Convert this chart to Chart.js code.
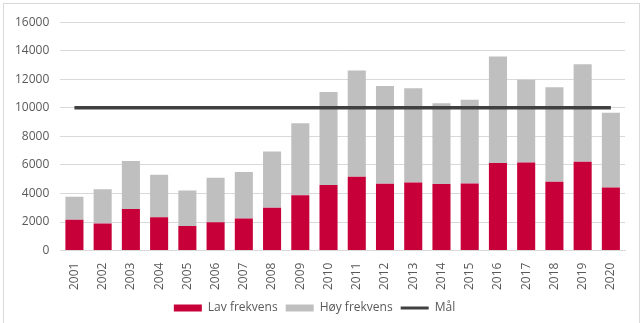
<!DOCTYPE html>
<html>
<head>
<meta charset="utf-8">
<script src="https://cdn.jsdelivr.net/npm/chart.js@4"></script>
<style>
  html, body { margin: 0; padding: 0; background: #fff; overflow: hidden; }
  #wrap { position: absolute; left: 3px; top: 3px; width: 635px; height: 320px; border: 1px solid #D9D9D9; }
</style>
</head>
<body>
<div id="wrap"><canvas id="chart"></canvas></div>
<script>
const years = ['2001','2002','2003','2004','2005','2006','2007','2008','2009','2010',
               '2011','2012','2013','2014','2015','2016','2017','2018','2019','2020']
// lav frekvens (red part)
const lav = [2150,1890,2910,2330,1720,1980,2240,3000,3870,4590,
             5170,4680,4770,4660,4700,6130,6170,4820,6220,4420]
// hoy frekvens (grey part, stacked on top)
const hoy = [1620,2400,3360,2980,2490,3120,3260,3940,5050,6520,
             7450,6850,6600,5660,5870,7470,5800,6620,6830,5240]
const maal = [10000,10000,10000,10000,10000,10000,10000,10000,10000,10000,
              10000,10000,10000,10000,10000,10000,10000,10000,10000,10000]
const yTicks = [0,2000,4000,6000,8000,10000,12000,14000,16000]

const font = {family: "'Open Sans', sans-serif", size: 12}

let chart = new Chart(document.getElementById('chart'), {
    type: 'bar',
    data: {
        labels: years,
        datasets: [
            {label: 'Lav frekvens', data: lav, backgroundColor: '#C8003A', stack: 'f', order: 2,
             barPercentage: 0.64, categoryPercentage: 1},
            {label: 'Høy frekvens', data: hoy, backgroundColor: '#BFBFBF', stack: 'f', order: 2,
             barPercentage: 0.64, categoryPercentage: 1},
            {label: 'Mål', type: 'line', data: maal, stack: 'm', order: 1,
             borderColor: '#404040', backgroundColor: '#404040', borderWidth: 3.5,
             pointRadius: 0, pointHoverRadius: 0}
        ]
    },
    options: {
        responsive: true,
        maintainAspectRatio: false,
        animation: false,
        layout: {padding: {left: 0, right: 14, top: 8, bottom: 0}},
        plugins: {
            tooltip: {enabled: false},
            legend: {
                position: 'bottom',
                labels: {
                    color: '#595959', font: font, boxWidth: 28, boxHeight: 7, padding: 8,
                    usePointStyle: true, pointStyleWidth: 28,
                    sort: (a, b) => a.datasetIndex - b.datasetIndex,
                    generateLabels: c => {
                        let items = Chart.defaults.plugins.legend.labels.generateLabels(c)
                        items.forEach(it => {
                            if (it.datasetIndex == 2) {
                                it.pointStyle = 'line'; it.lineWidth = 3
                            } else {
                                it.pointStyle = 'rect'; it.lineWidth = 0
                            }
                        })
                        return items
                    }
                }
            }
        },
        scales: {
            x: {
                stacked: true,
                grid: {display: false},
                border: {color: '#D9D9D9', width: 1},
                ticks: {color: '#595959', font: font, minRotation: 90, maxRotation: 90, padding: 4}
            },
            y: {
                stacked: true,
                min: 0, max: 16000,
                afterBuildTicks: s => { s.ticks = yTicks.map(v => ({value: v})) },
                grid: {color: '#D9D9D9', drawTicks: false},
                border: {display: false},
                ticks: {color: '#595959', font: font, padding: 11, callback: v => String(v)}
            }
        }
    }
})
</script>
</body>
</html>
